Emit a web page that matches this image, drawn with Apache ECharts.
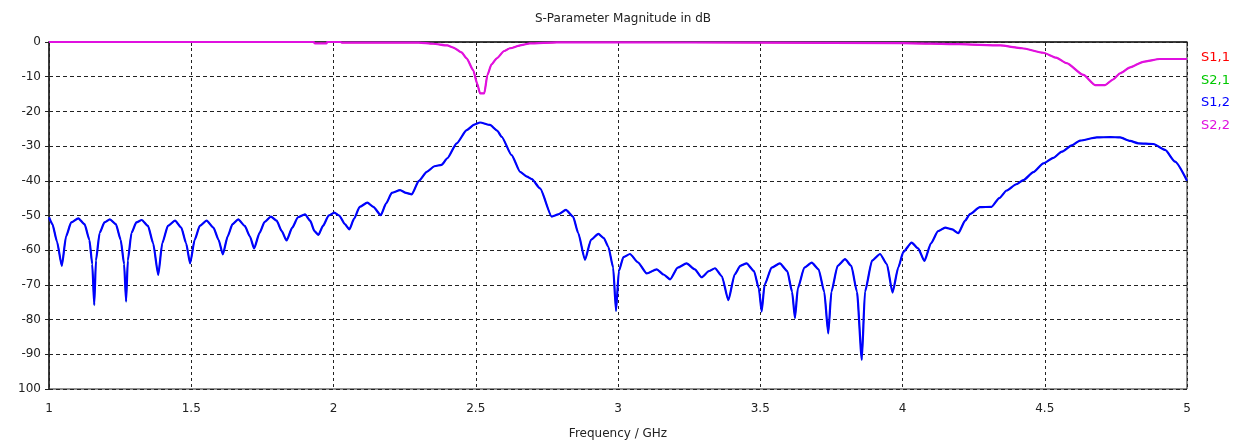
<!DOCTYPE html>
<html>
<head>
<meta charset="utf-8">
<script src="https://cdn.jsdelivr.net/npm/echarts@6/dist/echarts.min.js"></script>
<style>
html,body{margin:0;padding:0;background:#fff;}
#c{width:1249px;height:445px;}
</style>
</head>
<body>
<div id="c"></div>
<script>
// Series names / legend labels
var seriesNames = ['S1,1', 'S2,1', 'S1,2', 'S2,2'];

// S1,1 / S2,2 (reflection) — frequency (GHz) and magnitude (dB)
var freqRefl = [1.000,1.930,1.935,1.975,1.978,2.025,2.030,2.300,2.350,2.400,2.421,2.450,2.468,2.491,2.505,2.515,2.530,2.541,2.555,2.574,2.600,2.620,2.660,2.690,2.785,3.000,3.500,4.000,4.200,4.343,4.420,4.495,4.540,4.577,4.636,4.677,4.712,4.740,4.765,4.800,4.846,4.905,5.000];
var dbRefl = [0,0,-0.4,-0.4,0,0,-0.2,-0.2,-0.5,-1.0,-1.6,-3.0,-4.7,-8.1,-12,-14.8,-14.8,-9.5,-6.5,-4.7,-2.6,-1.8,-0.9,-0.4,-0.1,-0.1,-0.2,-0.3,-0.6,-1.0,-1.8,-3.1,-4.5,-6.1,-9.5,-12.4,-12.4,-10.8,-9.0,-7.3,-5.7,-4.9,-4.9];

// S1,2 / S2,1 (transmission) — frequency (GHz) and magnitude (dB)
var freqTrans = [1.000,1.012,1.028,1.045,1.060,1.078,1.103,1.125,1.142,1.152,1.159,1.165,1.178,1.195,1.214,1.235,1.252,1.264,1.271,1.277,1.290,1.307,1.326,1.348,1.366,1.384,1.398,1.418,1.443,1.465,1.482,1.496,1.512,1.530,1.554,1.578,1.596,1.611,1.628,1.645,1.665,1.688,1.706,1.721,1.740,1.758,1.780,1.800,1.818,1.835,1.855,1.875,1.900,1.918,1.933,1.947,1.963,1.983,2.003,2.020,2.040,2.056,2.072,2.092,2.119,2.140,2.166,2.185,2.205,2.234,2.255,2.275,2.300,2.328,2.355,2.380,2.400,2.433,2.468,2.495,2.515,2.550,2.575,2.591,2.626,2.656,2.680,2.697,2.726,2.767,2.790,2.817,2.842,2.860,2.884,2.905,2.931,2.950,2.966,2.983,2.993,3.003,3.019,3.042,3.070,3.101,3.136,3.160,3.183,3.210,3.241,3.270,3.294,3.320,3.341,3.365,3.388,3.410,3.430,3.452,3.478,3.495,3.505,3.515,3.540,3.569,3.595,3.612,3.622,3.632,3.655,3.681,3.705,3.725,3.739,3.750,3.772,3.798,3.820,3.840,3.857,3.868,3.893,3.921,3.945,3.965,3.985,4.003,4.032,4.055,4.077,4.100,4.125,4.150,4.175,4.196,4.220,4.237,4.272,4.313,4.340,4.366,4.400,4.425,4.460,4.495,4.530,4.560,4.595,4.624,4.683,4.730,4.765,4.800,4.829,4.882,4.923,4.958,5.000];
var dbTrans = [-50.5,-52.5,-57.5,-64.5,-56,-52,-50.8,-52.5,-57,-64,-75.8,-63,-55,-52,-51.1,-52.5,-57,-64,-74.8,-63,-55,-52,-51.3,-53,-58,-67.1,-58,-53,-51.5,-53.5,-58,-63.8,-57,-53,-51.5,-53.5,-57,-61.2,-56,-52.5,-51.1,-53,-56,-59.5,-55,-51.8,-50.3,-51.5,-54.5,-57.2,-53.5,-50.5,-49.7,-51.5,-54.5,-55.6,-53,-50,-49.2,-50,-52.5,-54,-51,-47.5,-46.3,-47.5,-49.9,-46.5,-43.5,-42.7,-43.5,-43.9,-40,-37.4,-35.8,-35.4,-33.5,-29.2,-25.4,-23.8,-23.2,-23.9,-25.5,-27.3,-32.6,-37.4,-38.8,-39.5,-42.2,-50.3,-49.7,-48.4,-50.3,-55,-62.8,-57,-55.3,-56.5,-59,-65,-77.5,-66,-62,-61.1,-63.5,-66.7,-65.5,-67,-68.4,-65,-63.8,-65.5,-67.8,-66,-65.2,-67.5,-74.4,-67,-64.5,-63.8,-66,-71,-77.7,-70,-65,-63.8,-66,-72,-79.6,-71,-65,-63.6,-65.5,-72,-84,-72,-64.5,-62.6,-64.5,-72,-91.6,-72,-63,-61.1,-64,-72.2,-65,-60.5,-57.8,-59.5,-63.1,-58,-54.5,-53.5,-54,-55.1,-51.5,-49.6,-47.6,-47.5,-45,-42.8,-41,-39.8,-37.5,-35,-33.4,-31.6,-29.8,-28.4,-27.5,-27.4,-27.5,-28.5,-29.2,-29.4,-31.1,-34.5,-40];

// Axis ticks
var xTicks = {min: 1, max: 5, step: 0.5};
var yTicks = {min: -100, max: 0, step: 10};

function pairs(xs, ys) { return xs.map(function (x, i) { return [x, ys[i]]; }); }

var colors = ['#ff0000', '#00c800', '#0000ff', '#e010e0'];
var font = 'DejaVu Sans, Tahoma, Verdana, sans-serif';

var chart = echarts.init(document.getElementById('c'), null, {renderer: 'canvas'});
chart.setOption({
  animation: false,
  title: {
    text: 'S-Parameter Magnitude in dB',
    left: 618, top: 8, textAlign: 'center',
    textStyle: {fontFamily: font, fontSize: 12, fontWeight: 'normal', color: '#222'}
  },
  legend: {
    orient: 'vertical', left: 1191, top: 46, itemGap: 9,
    icon: 'none', itemWidth: 0, itemHeight: 14, selectedMode: false,
    data: seriesNames.map(function (n, i) {
      return {name: n, textStyle: {color: colors[i], fontFamily: font, fontSize: 13}};
    }),
    textStyle: {padding: 0}
  },
  grid: {left: 49, right: 62, top: 42, bottom: 56, show: true, borderColor: '#222', borderWidth: 1, backgroundColor: 'transparent'},
  xAxis: {
    type: 'value', min: xTicks.min, max: xTicks.max, interval: xTicks.step,
    name: 'Frequency / GHz', nameLocation: 'middle', nameGap: 39,
    nameTextStyle: {fontFamily: font, fontSize: 12, color: '#222'},
    axisLine: {lineStyle: {color: '#222', width: 1.5}},
    axisTick: {show: true, length: 4, lineStyle: {color: '#222'}},
    axisLabel: {fontFamily: font, fontSize: 12, color: '#222', margin: 14},
    splitLine: {show: true, lineStyle: {color: '#222', type: [3, 3], width: 1}}
  },
  yAxis: {
    type: 'value', min: yTicks.min, max: yTicks.max, interval: yTicks.step,
    axisLine: {show: true, lineStyle: {color: '#222', width: 1.5}},
    axisTick: {show: true, length: 4, lineStyle: {color: '#222'}},
    axisLabel: {fontFamily: font, fontSize: 12, color: '#222', margin: 8,
      formatter: function (v) { return v === -100 ? '100' : String(v); }},
    splitLine: {show: true, lineStyle: {color: '#222', type: [4, 3], width: 1}}
  },
  series: [
    {name: seriesNames[0], type: 'line', data: pairs(freqRefl, dbRefl), showSymbol: false, smooth: 0.2, smoothMonotone: 'x', lineStyle: {color: colors[0], width: 1.2}, itemStyle: {color: colors[0]}, z: 1},
    {name: seriesNames[1], type: 'line', data: pairs(freqTrans, dbTrans), showSymbol: false, smooth: 0.2, smoothMonotone: 'x', lineStyle: {color: colors[1], width: 1.2}, itemStyle: {color: colors[1]}, z: 1},
    {name: seriesNames[2], type: 'line', data: pairs(freqTrans, dbTrans), showSymbol: false, smooth: 0.2, smoothMonotone: 'x', lineStyle: {color: colors[2], width: 2.2}, itemStyle: {color: colors[2]}, z: 3},
    {name: seriesNames[3], type: 'line', data: pairs(freqRefl, dbRefl), showSymbol: false, smooth: 0.2, smoothMonotone: 'x', lineStyle: {color: colors[3], width: 2.2}, itemStyle: {color: colors[3]}, z: 3}
  ]
});
</script>
</body>
</html>
